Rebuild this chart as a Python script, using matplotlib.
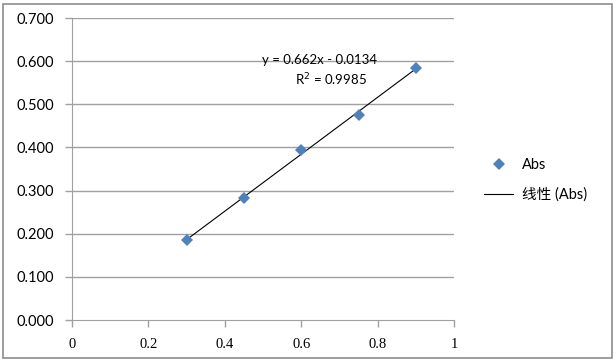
import matplotlib
matplotlib.use("Agg")
import matplotlib.pyplot as plt
import numpy as np
from matplotlib.patches import Rectangle
from matplotlib.lines import Line2D

x_vals = [0.3, 0.45, 0.6, 0.75, 0.9]
abs_vals = [0.185, 0.283, 0.394, 0.475, 0.584]
y_ticks = [0.0, 0.1, 0.2, 0.3, 0.4, 0.5, 0.6, 0.7]
x_ticks = [0, 0.2, 0.4, 0.6, 0.8, 1]
x_tick_labels = ["0", "0.2", "0.4", "0.6", "0.8", "1"]
eq_text = "y = 0.662x - 0.0134"
r2_text = "R$^2$ = 0.9985"
series_name = "Abs"
trend_name = "线性 (Abs)"

plt.rcParams['font.family'] = ['Lato', 'Noto Sans CJK SC', 'DejaVu Sans']

fig = plt.figure(figsize=(6.16, 3.61), dpi=100)
ax = fig.add_axes([72/616, 1-320/361, (454-72)/616, (320-18)/361])

grid_c = '#a0a0a0'
for yt in y_ticks[1:]:
    ax.axhline(yt, color=grid_c, lw=1.0, zorder=1)

coef = np.polyfit(x_vals, abs_vals, 1)
xt = np.array([min(x_vals), max(x_vals)])
ax.plot(xt, coef[0]*xt + coef[1], color='black', lw=0.8, zorder=2)
ax.plot(x_vals, abs_vals, 'D', color='#4F81BD', markersize=6, markeredgewidth=0, zorder=3)

ax.set_xlim(0, 1)
ax.set_ylim(0, 0.7)
ax.set_yticks(y_ticks)
ax.set_yticklabels([f"{v:.3f}" for v in y_ticks], fontsize=10.5)
ax.set_xticks(x_ticks)
ax.set_xticklabels(x_tick_labels, fontsize=10.5, family=['Liberation Serif', 'DejaVu Serif'])
for s in ['top', 'right']:
    ax.spines[s].set_visible(False)
for s in ['left', 'bottom']:
    ax.spines[s].set_color(grid_c)
ax.tick_params(axis='both', direction='out', color=grid_c, length=5, width=1)
ax.tick_params(axis='y', pad=8)
ax.tick_params(axis='x', pad=8)

ax.text(0.648, 0.603, eq_text, fontsize=9.5, ha='center', va='center')
ax.text(0.678, 0.557, r2_text, fontsize=9.5, ha='center', va='center')

handles = [Line2D([], [], marker='D', color='#4F81BD', ls='none', markersize=6, markeredgewidth=0),
           Line2D([], [], color='black', lw=0.8)]
fig.legend(handles, [series_name, trend_name], loc='center left',
           bbox_to_anchor=(471/616, 1-180/361), frameon=False, fontsize=10.5,
           handlelength=2.0, handletextpad=0.6, labelspacing=1.1)

fig.patches.append(Rectangle((3/616, 3/361), 609/616, 354/361, transform=fig.transFigure,
                             fill=False, edgecolor='#8c8c8c', lw=1.2))

fig.savefig('out.png', dpi=100)
